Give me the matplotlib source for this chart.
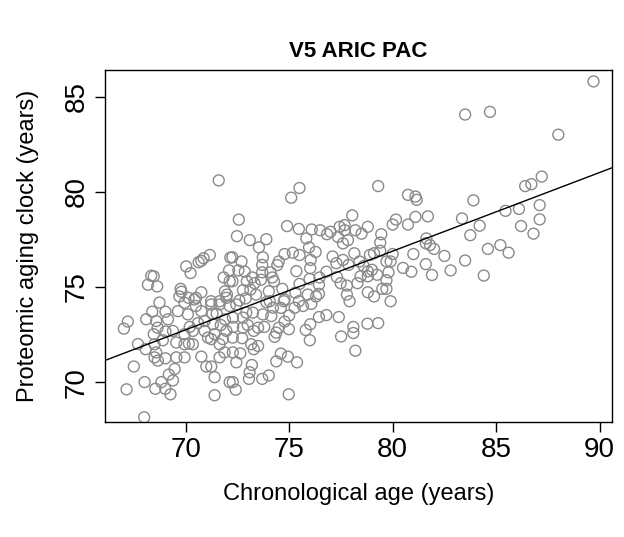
import numpy as np
import matplotlib
matplotlib.use("Agg")
import matplotlib.pyplot as plt

plt.rcParams['font.family'] = ['Liberation Sans', 'DejaVu Sans']

# chronological age (years) and proteomic aging clock (years)
age = [71.6, 75.5, 83.5, 79.3, 89.7, 84.7, 88.0, 87.2, 86.7, 86.4,
       85.45, 86.1, 87.1, 87.1, 86.2, 86.8, 84.2, 84.6, 85.2, 85.6, 84.4,
       80.74, 81.1, 81.16, 83.9, 80.16, 80.0, 80.74, 81.1, 81.7, 83.35,
       83.75, 78.8, 78.5, 78.2, 78.05, 79.45, 79.4, 81.63, 81.8, 81.6,
       81.0, 82.5, 83.5, 80.0, 79.1, 78.9, 78.4, 78.15, 79.7, 79.9, 81.6,
       79.8, 78.8, 78.8, 78.45, 79.25, 80.9, 81.9, 82.8, 79.7, 79.5, 79.7,
       78.8, 79.1, 79.9, 78.78, 78.1, 78.1, 78.2,
       75.1, 72.57, 72.48, 73.1, 73.9, 73.54, 73.73, 74.9, 75.47, 76.09,
       76.5, 76.83, 75.83, 75.96, 76.28, 76.04, 76.02, 75.35, 74.78, 75.18,
       75.5, 74.5, 74.43, 74.1, 74.19, 74.27, 73.7, 73.7, 73.64, 72.7,
       72.26, 72.55, 72.86, 72.96, 73.22, 73.33, 72.26, 72.77, 73.13, 74.02,
       74.67, 75.5, 75.99, 76.47, 76.44, 76.44, 77.31, 77.28, 77.6, 77.87,
       77.49, 77.79, 77.79, 77.36, 77.6, 77.84, 77.44, 77.68, 77.68,
       72.1, 74.75, 74.06, 75.47,
       71.17, 70.87, 70.76, 70.63, 70.03, 70.24, 72.16, 68.34, 68.18, 68.63,
       68.46, 69.76, 69.8, 70.76, 71.84, 72.13, 71.9, 70.14, 70.5, 68.74,
       71.23, 71.64, 71.97,
       67.21, 67.02, 68.1, 68.39, 68.58, 69.03, 69.15, 68.65, 68.46, 68.07,
       68.5, 68.58, 68.5, 68.66, 69.03, 67.5, 68.02, 67.15, 68.54, 68.83,
       69.02, 69.27, 69.19, 69.39, 69.47, 69.03, 69.39, 69.55, 69.95, 69.55,
       69.95, 70.16, 70.35, 70.76, 71.0, 71.24, 71.4, 71.4, 72.13, 71.64,
       71.88, 69.63, 70.11, 69.95, 70.43, 70.76, 70.92, 71.32, 71.24, 71.64,
       72.13, 70.92, 71.08, 71.24, 71.4, 71.64, 71.8, 71.97, 70.35, 69.95,
       68.0,
       72.45, 72.6, 72.28, 72.77, 72.93, 73.25, 73.73, 74.14, 74.22, 74.78,
       75.27, 75.67, 76.07, 74.78, 74.99, 74.5, 74.38, 74.3, 73.29, 73.5,
       72.77, 72.28, 72.73, 73.17, 73.5, 73.29, 72.28, 72.64, 72.45, 75.8,
       76.02, 76.44, 76.8, 77.4, 77.51, 77.92, 74.38, 74.94, 75.38, 73.09,
       73.06, 73.7, 74.02, 72.28, 72.42, 74.98,
       # overlapping points in the dense clusters
       71.5, 71.9, 72.0, 71.7, 72.3, 71.3, 70.6, 70.2, 70.5, 69.7,
       72.9, 73.4, 73.9, 73.0, 73.8, 74.6, 75.0, 75.3, 75.9, 76.3,
       76.8, 77.1, 77.0, 78.6, 78.3, 79.0, 79.4, 80.5, 82.0, 79.3,
       76.0, 74.6, 73.2, 68.9, 67.7]
pac = [80.6, 80.2, 84.06, 80.3, 85.8, 84.2, 83.0, 80.8, 80.4, 80.3,
       79.0, 79.1, 79.3, 78.55, 78.2, 77.8, 78.22, 77.0, 77.2, 76.8, 75.6,
       79.84, 79.75, 79.58, 79.55, 78.54, 78.28, 78.28, 78.68, 78.71, 78.6,
       77.72, 78.16, 77.8, 77.98, 78.76, 77.77, 77.33, 77.55, 77.2, 77.3,
       76.73, 76.63, 76.39, 76.73, 76.77, 76.68, 76.34, 76.77, 76.34, 76.34, 76.2,
       75.77, 75.82, 75.56, 75.56, 75.64, 75.8, 75.63, 75.87, 75.35, 74.9, 74.9,
       74.72, 74.5, 74.25, 73.07, 72.9, 72.58, 71.65,
       79.69, 78.54, 77.67, 77.46, 77.51, 77.08, 76.56, 78.2, 78.05, 78.02,
       77.98, 77.77, 77.55, 77.08, 76.84, 76.42, 75.99, 75.83, 76.73, 76.8,
       76.68, 76.34, 76.15, 75.77, 75.5, 75.3, 76.16, 75.77, 75.38, 76.34,
       76.56, 75.87, 75.8, 75.3, 75.5, 75.2, 75.3, 74.83, 74.86, 74.77,
       74.9, 75.16, 75.42, 75.5, 75.12, 74.64, 75.52, 76.25, 76.42, 76.16,
       75.2, 75.07, 74.6, 77.63, 77.29, 77.46, 78.16, 78.25, 77.98,
       75.87, 74.25, 74.25, 74.25,
       76.68, 76.51, 76.37, 76.3, 76.08, 75.73, 76.54, 75.59, 75.12, 75.03,
       75.56, 74.9, 74.75, 74.72, 75.5, 75.3, 74.77, 74.43, 74.43, 74.18,
       74.25, 74.25, 74.43,
       73.18, 72.81, 73.3, 73.7, 73.21, 73.7, 73.3, 72.86, 72.52, 71.73,
       71.99, 71.56, 71.3, 71.13, 71.25, 70.82, 70.0, 69.62, 69.65, 70.0,
       69.65, 69.36, 70.4, 70.09, 70.69, 72.66, 72.69, 71.3, 71.3, 72.08,
       71.99, 72.03, 71.99, 71.34, 70.82, 70.82, 70.26, 69.31, 70.0, 71.3,
       71.56, 73.73, 73.56, 74.17, 74.34, 73.73, 73.21, 73.04, 74.08, 74.08,
       74.0, 72.69, 72.34, 72.26, 72.52, 71.99, 72.26, 72.69, 72.69, 72.52,
       68.15,
       74.08, 74.29, 73.39, 73.39, 73.65, 73.65, 73.56, 73.47, 73.91, 74.34,
       73.91, 74.0, 74.11, 73.18, 72.78, 72.86, 72.6, 72.38, 72.69, 72.86,
       72.86, 72.34, 72.31, 71.99, 71.9, 71.73, 71.56, 71.51, 71.04, 72.74,
       73.04, 73.42, 73.52, 73.42, 72.4, 74.25, 71.09, 71.34, 71.04, 70.52,
       70.17, 70.17, 70.35, 70.0, 69.6, 69.36,
       73.6, 73.3, 74.6, 73.0, 72.9, 73.6, 73.1, 72.9, 74.0, 74.5,
       74.4, 74.6, 74.2, 73.0, 72.9, 73.9, 73.5, 74.7, 74.6, 74.5,
       75.8, 76.6, 77.9, 76.1, 75.2, 75.9, 76.9, 76.0, 77.0, 73.1,
       72.2, 71.5, 70.9, 72.2, 72.0]

# fitted line (intercept, slope)
fit_intercept = 43.81
fit_slope = 0.4134

x_ticks = [70, 75, 80, 85, 90]
y_ticks = [70, 75, 80, 85]

fig = plt.figure(figsize=(6.24, 5.37), dpi=100)
ax = fig.add_axes([0.168, 0.214, 0.813, 0.656])

ax.scatter(age, pac, s=62, facecolors='none', edgecolors='#8a8a8a', linewidths=1.0)
ax.axline((0, fit_intercept), slope=fit_slope, color='black', linewidth=1.0)

ax.set_xlim(66.1, 90.6)
ax.set_ylim(67.9, 86.41)
ax.set_xticks(x_ticks)
ax.set_yticks(y_ticks)
ax.set_yticklabels([str(v) for v in y_ticks], rotation=90, va='center')
ax.tick_params(direction='out', length=7, width=1, labelsize=20, pad=4)
for s in ax.spines.values():
    s.set_linewidth(1.0)

ax.set_title("V5 ARIC PAC", fontsize=16, fontweight='bold', pad=9)
ax.set_xlabel("Chronological age (years)", fontsize=17, labelpad=14)
ax.set_ylabel("Proteomic aging clock (years)", fontsize=17, labelpad=18)

plt.savefig('out.png', dpi=100)
